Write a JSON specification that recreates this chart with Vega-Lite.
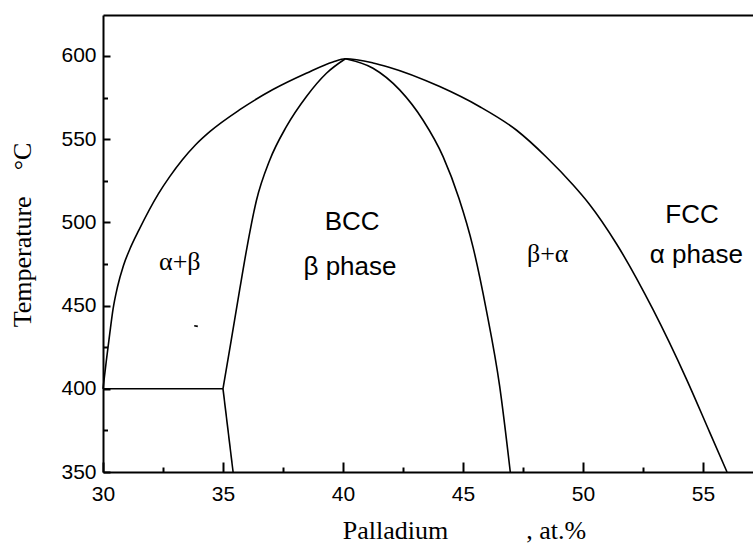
{
  "$schema": "https://vega.github.io/schema/vega-lite/v6.json",
  "width": 650,
  "height": 457,
  "autosize": "none",
  "padding": {"left": 103, "top": 15, "right": 0, "bottom": 72},
  "background": "white",
  "config": {
    "view": {"stroke": null},
    "axis": {"grid": false, "domainColor": "black", "tickColor": "black", "labelColor": "black", "titleColor": "black"}
  },
  "datasets": {
    "lines": [
      {"curve": "outer", "x": 30, "T": 400},
      {"curve": "outer", "x": 30.14, "T": 417},
      {"curve": "outer", "x": 30.28, "T": 433},
      {"curve": "outer", "x": 30.42, "T": 448},
      {"curve": "outer", "x": 30.6, "T": 461},
      {"curve": "outer", "x": 30.85, "T": 474},
      {"curve": "outer", "x": 31.12, "T": 484},
      {"curve": "outer", "x": 31.5, "T": 495.5},
      {"curve": "outer", "x": 32.3, "T": 517},
      {"curve": "outer", "x": 32.78, "T": 527.5},
      {"curve": "outer", "x": 33.3, "T": 537.5},
      {"curve": "outer", "x": 33.85, "T": 546.5},
      {"curve": "outer", "x": 34.45, "T": 554.5},
      {"curve": "outer", "x": 35.7, "T": 567.7},
      {"curve": "outer", "x": 37.08, "T": 579.8},
      {"curve": "outer", "x": 38.47, "T": 589.6},
      {"curve": "outer", "x": 39.58, "T": 596.4},
      {"curve": "outer", "x": 40.1, "T": 598.3},
      {"curve": "outer", "x": 41.25, "T": 595.8},
      {"curve": "outer", "x": 41.88, "T": 593.4},
      {"curve": "outer", "x": 44.03, "T": 581.6},
      {"curve": "outer", "x": 45.7, "T": 569.5},
      {"curve": "outer", "x": 47.22, "T": 555.5},
      {"curve": "outer", "x": 48.47, "T": 539.3},
      {"curve": "outer", "x": 49.58, "T": 522.6},
      {"curve": "outer", "x": 50.25, "T": 511.2},
      {"curve": "outer", "x": 51.4, "T": 487},
      {"curve": "outer", "x": 52.92, "T": 447.5},
      {"curve": "outer", "x": 54.31, "T": 405.8},
      {"curve": "outer", "x": 55.28, "T": 373.8},
      {"curve": "outer", "x": 56, "T": 350},
      {"curve": "innerLeft", "x": 35, "T": 400},
      {"curve": "innerLeft", "x": 35.34, "T": 429},
      {"curve": "innerLeft", "x": 35.7, "T": 460},
      {"curve": "innerLeft", "x": 36.0, "T": 485},
      {"curve": "innerLeft", "x": 36.39, "T": 513},
      {"curve": "innerLeft", "x": 36.95, "T": 537.5},
      {"curve": "innerLeft", "x": 37.64, "T": 557.5},
      {"curve": "innerLeft", "x": 38.47, "T": 575.5},
      {"curve": "innerLeft", "x": 39.31, "T": 589.6},
      {"curve": "innerLeft", "x": 40.1, "T": 598.3},
      {"curve": "innerRight", "x": 40.1, "T": 598.3},
      {"curve": "innerRight", "x": 41.25, "T": 592.6},
      {"curve": "innerRight", "x": 42.36, "T": 579.6},
      {"curve": "innerRight", "x": 43.33, "T": 561.5},
      {"curve": "innerRight", "x": 44.17, "T": 539.5},
      {"curve": "innerRight", "x": 44.83, "T": 514.5},
      {"curve": "innerRight", "x": 45.42, "T": 485},
      {"curve": "innerRight", "x": 45.97, "T": 447.4},
      {"curve": "innerRight", "x": 46.53, "T": 401.3},
      {"curve": "innerRight", "x": 46.97, "T": 350},
      {"curve": "tie", "x": 30, "T": 400},
      {"curve": "tie", "x": 35, "T": 400},
      {"curve": "low", "x": 35, "T": 400},
      {"curve": "low", "x": 35.42, "T": 350},
      {"curve": "dash", "x": 33.8, "T": 437.9},
      {"curve": "dash", "x": 33.95, "T": 437.5}
    ],
    "sansLabels": [
      {"label": "BCC", "x": 40.38, "T": 495.4},
      {"label": "β phase", "x": 40.29, "T": 468.4},
      {"label": "FCC", "x": 54.54, "T": 499.5},
      {"label": "α phase", "x": 54.72, "T": 475.4}
    ],
    "serifLabels": [
      {"label": "α+β", "x": 33.2, "T": 471.4},
      {"label": "β+α", "x": 48.53, "T": 476.4}
    ]
  },
  "layer": [
    {
      "data": {"name": "lines"},
      "mark": {"type": "line", "color": "black", "strokeWidth": 1.6, "interpolate": "monotone"},
      "encoding": {
        "x": {
          "field": "x", "type": "quantitative",
          "scale": {"domain": [30, 57.083], "nice": false, "zero": false},
          "axis": {
            "orient": "bottom", "values": [30, 35, 40, 45, 50, 55],
            "tickSize": -10, "tickWidth": 2, "domainWidth": 2,
            "labelFont": "Liberation Sans", "labelFontSize": 21, "labelPadding": 21,
            "labelFlush": false, "labelOverlap": false,
            "title": "Palladium\u00a0\u00a0\u00a0\u00a0\u00a0\u00a0\u00a0\u00a0\u00a0\u00a0\u00a0\u00a0, at.%",
            "titleFont": "Liberation Serif", "titleFontSize": 26, "titleFontWeight": "normal",
            "titleX": 361, "titleY": 66, "titleAlign": "center", "titleBaseline": "alphabetic"
          }
        },
        "y": {
          "field": "T", "type": "quantitative",
          "scale": {"domain": [350, 624.6], "nice": false, "zero": false},
          "axis": {
            "orient": "left", "values": [350, 400, 450, 500, 550, 600],
            "tickSize": -7, "tickWidth": 2, "domainWidth": 2,
            "labelFont": "Liberation Sans", "labelFontSize": 21, "labelPadding": 14,
            "labelFlush": false, "labelOverlap": false,
            "title": "Temperature\u00a0\u00a0\u00a0\u00a0°C",
            "titleFont": "Liberation Serif", "titleFontSize": 26, "titleFontWeight": "normal",
            "titleAngle": 270, "titleX": -73, "titleY": 219.5, "titleAlign": "center", "titleBaseline": "alphabetic"
          }
        },
        "detail": {"field": "curve"}
      }
    },
    {
      "data": {"name": "sansLabels"},
      "mark": {"type": "text", "font": "Liberation Sans", "fontSize": 26, "align": "center", "baseline": "alphabetic", "color": "black"},
      "encoding": {
        "x": {
          "field": "x", "type": "quantitative",
          "scale": {"domain": [30, 57.083], "nice": false, "zero": false},
          "axis": {"orient": "bottom", "values": [32.5, 37.5, 42.5, 47.5, 52.5], "tickSize": -5, "tickWidth": 2, "labels": false, "domain": false, "title": null}
        },
        "y": {
          "field": "T", "type": "quantitative",
          "scale": {"domain": [350, 624.6], "nice": false, "zero": false},
          "axis": {"orient": "left", "values": [375, 425, 475, 525, 575], "tickSize": -4.5, "tickWidth": 2, "labels": false, "domain": false, "title": null}
        },
        "text": {"field": "label"}
      }
    },
    {
      "data": {"name": "serifLabels"},
      "mark": {"type": "text", "font": "Liberation Serif", "fontSize": 26, "align": "center", "baseline": "alphabetic", "color": "black"},
      "encoding": {
        "x": {
          "field": "x", "type": "quantitative",
          "scale": {"domain": [30, 57.083], "nice": false, "zero": false},
          "axis": {"orient": "top", "ticks": false, "labels": false, "domain": true, "domainWidth": 2, "title": null}
        },
        "y": {
          "field": "T", "type": "quantitative",
          "scale": {"domain": [350, 624.6], "nice": false, "zero": false},
          "axis": null
        },
        "text": {"field": "label"}
      }
    }
  ],
  "resolve": {"axis": {"x": "independent", "y": "independent"}}
}
